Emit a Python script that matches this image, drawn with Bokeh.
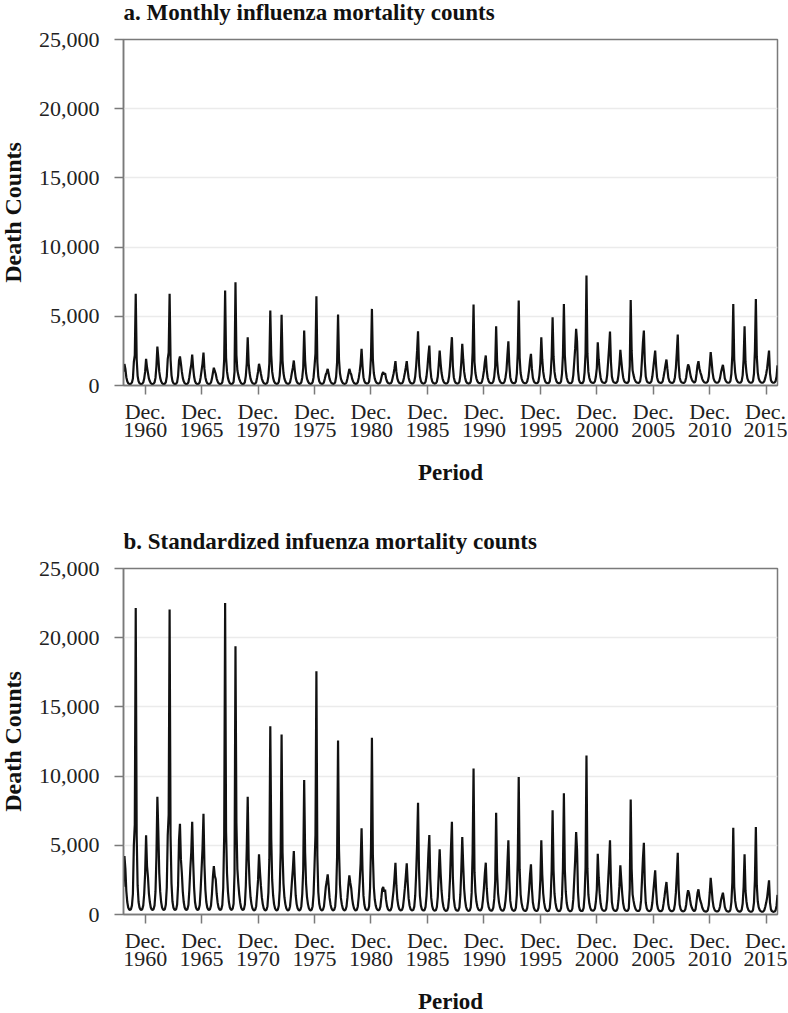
from bokeh.plotting import figure
from bokeh.models import Range1d, FixedTicker, NumeralTickFormatter
from bokeh.layouts import column
from bokeh.embed import file_html
from bokeh.resources import INLINE

# ---------------- data ----------------
first_year = 1959
years = list(range(1959, 2017))

# a. monthly influenza mortality counts, one row per year (Jan..Dec)
monthly_counts = [
    [1000, 1550, 1200, 600, 300, 170, 120, 110, 130, 220, 500, 1700],   # 1959
    [2200, 6620, 1900, 700, 300, 170, 120, 110, 130, 220, 500, 1000],   # 1960
    [1925, 1300, 900, 500, 300, 170, 120, 110, 130, 220, 550, 1400],    # 1961
    [2815, 2000, 1000, 550, 300, 170, 120, 110, 130, 240, 650, 1900],   # 1962
    [2400, 6620, 1900, 750, 320, 170, 120, 110, 130, 240, 700, 1800],   # 1963
    [2094, 1600, 1000, 550, 300, 170, 120, 110, 130, 230, 600, 1100],   # 1964
    [1500, 2238, 1300, 650, 300, 170, 120, 110, 130, 230, 600, 1100],   # 1965
    [1600, 2383, 1200, 600, 300, 170, 120, 110, 130, 220, 500, 900],    # 1966
    [1278, 1050, 850, 500, 290, 170, 120, 110, 130, 230, 650, 1900],    # 1967
    [6859, 2000, 1000, 550, 300, 170, 120, 110, 140, 260, 1000, 7459],  # 1968
    [2200, 1100, 750, 480, 290, 170, 120, 110, 130, 240, 700, 1600],    # 1969
    [3490, 1600, 900, 500, 300, 180, 130, 120, 140, 240, 600, 1000],    # 1970
    [1567, 1250, 850, 500, 300, 180, 130, 120, 140, 240, 650, 1600],    # 1971
    [5415, 2200, 1000, 550, 300, 180, 130, 120, 140, 250, 700, 1800],   # 1972
    [5103, 1800, 900, 500, 300, 180, 130, 120, 140, 240, 550, 950],     # 1973
    [1300, 1805, 1100, 550, 300, 180, 130, 120, 140, 240, 600, 1300],   # 1974
    [3971, 1800, 900, 500, 300, 180, 130, 120, 140, 240, 600, 1400],    # 1975
    [2300, 6448, 1700, 650, 310, 180, 130, 120, 140, 230, 500, 800],    # 1976
    [950, 1203, 850, 480, 290, 180, 130, 120, 140, 240, 650, 1700],     # 1977
    [5126, 1900, 900, 500, 300, 180, 130, 120, 140, 230, 500, 850],     # 1978
    [1203, 950, 800, 480, 290, 180, 130, 120, 140, 240, 550, 1000],     # 1979
    [1600, 2647, 1400, 600, 310, 190, 150, 140, 160, 270, 850, 2100],   # 1980
    [5535, 1900, 900, 500, 300, 190, 150, 140, 160, 260, 550, 850],     # 1981
    [963, 800, 880, 520, 300, 190, 150, 140, 160, 260, 550, 850],       # 1982
    [1250, 1757, 1000, 520, 300, 190, 150, 140, 160, 260, 550, 900],    # 1983
    [1300, 1757, 1100, 560, 310, 190, 150, 140, 160, 270, 650, 1400],   # 1984
    [2500, 3923, 1600, 650, 320, 190, 150, 140, 160, 270, 650, 1300],   # 1985
    [2200, 2888, 1300, 600, 310, 190, 150, 140, 160, 270, 650, 1500],   # 1986
    [2527, 1600, 900, 520, 300, 190, 150, 140, 160, 270, 650, 1400],    # 1987
    [2500, 3490, 1400, 600, 310, 190, 150, 140, 160, 270, 750, 1700],   # 1988
    [3008, 1900, 1000, 560, 300, 190, 150, 140, 160, 280, 850, 2400],   # 1989
    [5848, 1700, 900, 520, 320, 210, 170, 160, 180, 280, 600, 1050],    # 1990
    [1700, 2166, 1100, 560, 320, 210, 170, 160, 180, 290, 650, 1400],   # 1991
    [4284, 1800, 900, 520, 320, 210, 170, 160, 180, 290, 600, 1100],    # 1992
    [2200, 3200, 1500, 600, 330, 210, 170, 160, 180, 300, 850, 2400],   # 1993
    [6137, 2000, 900, 520, 320, 210, 170, 160, 180, 290, 600, 1100],    # 1994
    [1800, 2287, 1200, 560, 320, 210, 170, 160, 180, 300, 750, 1600],   # 1995
    [3490, 1900, 1000, 560, 320, 210, 170, 160, 180, 300, 850, 2100],   # 1996
    [4934, 2100, 1000, 560, 320, 210, 170, 160, 180, 300, 850, 2200],   # 1997
    [5896, 2200, 1100, 560, 320, 210, 170, 160, 180, 290, 750, 1700],   # 1998
    [2700, 4092, 3200, 1100, 400, 230, 180, 170, 190, 320, 950, 2300],  # 1999
    [7942, 2300, 1000, 560, 330, 230, 200, 190, 210, 300, 650, 1250],   # 2000
    [3129, 1900, 1100, 580, 330, 230, 200, 190, 210, 300, 750, 1700],   # 2001
    [2700, 3899, 1700, 650, 340, 230, 200, 190, 210, 310, 750, 1500],   # 2002
    [2575, 1800, 1100, 580, 330, 230, 200, 190, 210, 330, 1400, 6185],  # 2003
    [2500, 1100, 750, 480, 320, 230, 200, 190, 210, 300, 750, 1900],    # 2004
    [3100, 3971, 1700, 650, 340, 230, 200, 190, 210, 300, 650, 1250],   # 2005
    [1900, 2527, 1400, 600, 330, 230, 200, 190, 210, 300, 650, 1050],   # 2006
    [1500, 1877, 1200, 560, 320, 230, 200, 190, 210, 290, 600, 1250],   # 2007
    [2400, 3682, 1500, 600, 330, 230, 200, 190, 210, 300, 600, 1150],   # 2008
    [1516, 1350, 950, 600, 420, 300, 230, 220, 350, 850, 1450, 1757],   # 2009
    [1250, 950, 750, 480, 330, 240, 210, 200, 220, 310, 650, 1500],     # 2010
    [2406, 1700, 950, 520, 330, 240, 210, 200, 220, 310, 550, 950],     # 2011
    [1250, 1492, 1050, 520, 330, 240, 210, 200, 220, 330, 850, 2200],   # 2012
    [5896, 1900, 950, 520, 330, 240, 210, 200, 220, 330, 750, 1900],    # 2013
    [4284, 1700, 950, 520, 330, 240, 210, 200, 220, 330, 850, 2500],    # 2014
    [6257, 2100, 950, 520, 330, 240, 210, 200, 220, 310, 550, 850],     # 2015
    [1250, 1900, 2527, 900, 380, 250, 210, 200, 220, 320, 650, 1450],   # 2016
]

# b. standardized influenza mortality counts, one row per year (Jan..Dec)
standardized_counts = [
    [2000, 4224, 3300, 1700, 900, 510, 360, 330, 390, 660, 1500, 5000],      # 1959
    [6500, 22150, 5700, 2100, 900, 510, 360, 330, 390, 660, 1500, 3000],     # 1960
    [5718, 3500, 2700, 1500, 900, 510, 360, 330, 390, 660, 1650, 4200],      # 1961
    [8506, 6000, 3000, 1650, 900, 510, 360, 330, 390, 720, 1950, 5700],      # 1962
    [7200, 22035, 5700, 2250, 960, 510, 360, 330, 390, 720, 2100, 5400],     # 1963
    [6557, 4000, 3000, 1650, 900, 510, 360, 330, 390, 690, 1800, 3300],      # 1964
    [4500, 6701, 3900, 1950, 900, 510, 360, 330, 390, 690, 1800, 3300],      # 1965
    [4800, 7278, 3600, 1800, 900, 510, 360, 330, 390, 660, 1500, 2700],      # 1966
    [3502, 2800, 2550, 1500, 870, 510, 360, 330, 390, 690, 1950, 5700],      # 1967
    [22512, 6000, 3000, 1650, 900, 510, 360, 330, 420, 780, 3000, 19386],    # 1968
    [6600, 3300, 2250, 1440, 870, 510, 360, 330, 390, 720, 2100, 4800],      # 1969
    [8506, 4000, 2250, 1250, 750, 450, 325, 300, 350, 600, 1500, 2500],      # 1970
    [4346, 3100, 2100, 1250, 750, 450, 325, 300, 350, 600, 1600, 4000],      # 1971
    [13610, 5500, 2500, 1375, 750, 450, 325, 300, 350, 625, 1750, 4500],     # 1972
    [13008, 4500, 2250, 1250, 750, 450, 325, 300, 350, 600, 1375, 2400],     # 1973
    [3300, 4585, 2750, 1375, 750, 450, 325, 300, 350, 600, 1500, 3250],      # 1974
    [9711, 4500, 2250, 1250, 750, 450, 325, 300, 350, 600, 1500, 3500],      # 1975
    [5750, 17581, 4250, 1625, 775, 450, 325, 300, 350, 575, 1250, 2000],     # 1976
    [2400, 2902, 2100, 1200, 725, 450, 325, 300, 350, 600, 1600, 4200],      # 1977
    [12577, 4700, 2200, 1200, 740, 450, 325, 300, 350, 575, 1250, 2100],     # 1978
    [2830, 2300, 1900, 1150, 700, 440, 320, 300, 340, 580, 1300, 2350],      # 1979
    [3700, 6223, 3200, 1380, 700, 420, 330, 310, 350, 590, 1900, 4800],      # 1980
    [12765, 4300, 2000, 1100, 660, 420, 330, 310, 350, 570, 1200, 1850],     # 1981
    [1985, 1650, 1800, 1070, 620, 390, 310, 290, 330, 535, 1130, 1750],      # 1982
    [2650, 3742, 2100, 1100, 640, 400, 320, 300, 340, 550, 1170, 1900],      # 1983
    [2750, 3700, 2300, 1180, 650, 400, 315, 295, 335, 565, 1360, 2900],      # 1984
    [5100, 8073, 3300, 1340, 660, 390, 310, 290, 330, 555, 1340, 2650],      # 1985
    [4400, 5740, 2600, 1200, 620, 380, 300, 280, 320, 540, 1300, 2950],      # 1986
    [4707, 3000, 1700, 970, 560, 355, 280, 260, 300, 500, 1200, 2600],       # 1987
    [4800, 6701, 2700, 1150, 600, 365, 290, 270, 310, 520, 1450, 3250],      # 1988
    [5596, 3550, 1860, 1040, 560, 355, 280, 260, 300, 520, 1580, 4450],      # 1989
    [10556, 3060, 1620, 935, 575, 380, 305, 290, 325, 505, 1080, 1890],      # 1990
    [2950, 3742, 1900, 970, 555, 365, 295, 275, 310, 500, 1125, 2420],       # 1991
    [7350, 3100, 1550, 895, 550, 360, 290, 275, 310, 500, 1030, 1890],       # 1992
    [3680, 5357, 2500, 1000, 550, 350, 285, 265, 300, 500, 1420, 4000],      # 1993
    [9928, 3240, 1460, 840, 520, 340, 275, 260, 290, 470, 970, 1780],        # 1994
    [2850, 3624, 1900, 885, 505, 330, 270, 255, 285, 475, 1185, 2530],       # 1995
    [5357, 2900, 1530, 855, 490, 320, 260, 245, 275, 460, 1300, 3200],       # 1996
    [7523, 3200, 1520, 850, 485, 320, 260, 245, 275, 455, 1290, 3350],       # 1997
    [8751, 3250, 1630, 830, 475, 310, 250, 240, 265, 430, 1110, 2520],       # 1998
    [3950, 5957, 4650, 1600, 585, 335, 265, 250, 280, 470, 1390, 3350],      # 1999
    [11494, 3330, 1450, 810, 480, 330, 290, 275, 305, 435, 940, 1800],       # 2000
    [4390, 2660, 1540, 810, 460, 320, 280, 265, 295, 420, 1050, 2380],       # 2001
    [3700, 5357, 2330, 890, 465, 315, 275, 260, 290, 425, 1030, 2050],       # 2002
    [3552, 2450, 1500, 790, 450, 315, 270, 260, 285, 450, 1900, 8317],       # 2003
    [3300, 1460, 1000, 640, 425, 305, 265, 250, 280, 400, 1000, 2500],       # 2004
    [4050, 5184, 2230, 850, 445, 300, 260, 250, 275, 395, 850, 1640],        # 2005
    [2400, 3191, 1760, 755, 415, 290, 250, 240, 265, 380, 820, 1320],        # 2006
    [1880, 2347, 1500, 700, 400, 290, 250, 240, 265, 365, 750, 1560],        # 2007
    [2900, 4462, 1820, 725, 400, 280, 240, 230, 255, 365, 725, 1390],        # 2008
    [1747, 1550, 1090, 690, 480, 345, 265, 250, 400, 950, 1550, 1819],       # 2009
    [1310, 1000, 790, 505, 345, 250, 220, 210, 230, 325, 680, 1575],         # 2010
    [2657, 1870, 1045, 570, 360, 260, 230, 220, 240, 340, 600, 1045],        # 2011
    [1310, 1574, 1100, 545, 345, 250, 220, 210, 230, 345, 890, 2300],        # 2012
    [6267, 2000, 1000, 550, 350, 255, 220, 210, 235, 350, 795, 2000],        # 2013
    [4346, 1720, 960, 525, 335, 245, 210, 200, 220, 335, 860, 2500],         # 2014
    [6317, 2120, 960, 525, 335, 245, 210, 200, 220, 315, 555, 860],          # 2015
    [1225, 1860, 2469, 880, 370, 245, 205, 195, 215, 315, 640, 1420],        # 2016
]

tick_years = [1960, 1965, 1970, 1975, 1980, 1985, 1990, 1995, 2000, 2005, 2010, 2015]
tick_month_name = "Dec."
tick_month_index = 11  # December
y_ticks = [0, 5000, 10000, 15000, 20000, 25000]
y_max = 25000

panel_titles = [
    "a. Monthly influenza mortality counts",
    "b. Standardized infuenza mortality counts",
]
x_label = "Period"
y_label = "Death Counts"

SERIF = "Liberation Serif"
AXIS_GREY = "#7a7a7a"


def make_panel(title, rows, height, border_top, border_bottom):
    xs, ys = [], []
    for yr, row in zip(years, rows):
        for m, v in enumerate(row):
            xs.append((yr - first_year) * 12 + m)
            ys.append(v)

    p = figure(
        width=794, height=height,
        x_range=Range1d(xs[0], xs[-1]), y_range=Range1d(0, y_max),
        output_backend="svg", toolbar_location=None,
        min_border_left=130, min_border_right=10,
        min_border_top=border_top, min_border_bottom=border_bottom,
        title=title,
    )
    p.title.text_font = SERIF
    p.title.text_font_size = "23px"
    p.title.text_font_style = "bold"
    p.title.text_color = "#111111"
    p.title.align = "left"
    p.title.offset = 0
    p.title.standoff = 30

    p.line(xs, ys, line_color="#111111", line_width=2.2)

    tick_pos = [(y - first_year) * 12 + tick_month_index for y in tick_years]
    p.xaxis.ticker = FixedTicker(ticks=tick_pos)
    p.xaxis.major_label_overrides = {
        pos: f"{tick_month_name}\n{y}" for pos, y in zip(tick_pos, tick_years)
    }
    p.yaxis.ticker = FixedTicker(ticks=y_ticks)
    p.yaxis.formatter = NumeralTickFormatter(format="0,0")

    for ax in (p.xaxis[0], p.yaxis[0]):
        ax.axis_line_color = AXIS_GREY
        ax.axis_line_width = 1.5
        ax.major_tick_line_color = AXIS_GREY
        ax.major_tick_line_width = 1.5
        ax.major_tick_in = 0
        ax.major_tick_out = 9
        ax.minor_tick_line_color = None
        ax.major_label_text_font = SERIF
        ax.major_label_text_font_size = "22px"
        ax.major_label_text_color = "#222222"
        ax.axis_label_text_font = SERIF
        ax.axis_label_text_font_style = "bold"
        ax.axis_label_text_color = "#111111"

    p.xaxis.axis_label = x_label
    p.yaxis.axis_label = y_label
    p.xaxis.axis_label_text_font_size = "23px"
    p.yaxis.axis_label_text_font_size = "24px"
    p.yaxis.axis_label_text_line_height = 1.0
    p.yaxis.major_label_standoff = 15
    p.yaxis.axis_label_standoff = 10
    p.xaxis.major_label_standoff = 4
    p.xaxis.major_label_text_line_height = 0.72
    p.xaxis.axis_label_standoff = 15

    p.xgrid.visible = False
    p.ygrid.grid_line_color = "#ebebeb"
    p.ygrid.grid_line_width = 1.5
    p.outline_line_color = AXIS_GREY
    p.outline_line_width = 1.5
    p.background_fill_color = "white"
    p.border_fill_color = "white"
    return p


pa = make_panel(panel_titles[0], monthly_counts, 529, 59, 124)
pb = make_panel(panel_titles[1], standardized_counts, 507, 59, 102)

layout = column(pa, pb, spacing=0, margin=(-20, -8, -8, -7))

with open("out.html", "w") as f:
    f.write(file_html(layout, INLINE))
